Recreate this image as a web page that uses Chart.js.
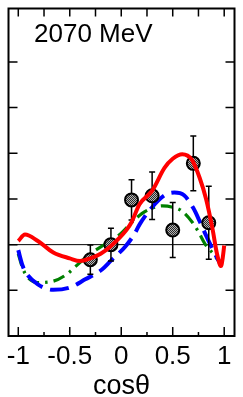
<!DOCTYPE html>
<html>
<head>
<meta charset="utf-8">
<script src="https://cdn.jsdelivr.net/npm/chart.js@4.4.0/dist/chart.umd.min.js"></script>
<style>
  html, body { margin: 0; padding: 0; background: #fff; }
</style>
</head>
<body>
<canvas id="chart" width="243" height="397"></canvas>
<script>
// panel label and axis ticks
const energyLabel = '2070 MeV';
const xTicks = [-1, -0.5, 0, 0.5, 1];
const xMinorTicks = [-0.75, -0.25, 0.25, 0.75];
const yTicks = [-1, 0, 1, 2, 3, 4];

// measured points
const dataCos = [-0.3, -0.1, 0.1, 0.3, 0.5, 0.7, 0.85];
const dataVal = [-0.33, 0.0, 0.98, 1.07, 0.32, 1.78, 0.48];
const dataErr = [0.32, 0.36, 0.44, 0.52, 0.6, 0.6, 0.8];

// model curves
const redCos = [-1.0, -0.935, -0.81, -0.66, -0.5, -0.4, -0.3, -0.2, -0.1, 0.05, 0.1, 0.176, 0.3, 0.42, 0.5, 0.593, 0.685, 0.762, 0.824, 0.886, 0.93, 0.969, 0.985, 1.0];
const redVal = [0.08, 0.22, 0.08, -0.17, -0.3, -0.36, -0.3, -0.2, -0.03, 0.32, 0.49, 0.88, 1.18, 1.68, 1.88, 1.98, 1.86, 1.46, 1.0, 0.35, -0.2, -0.47, -0.3, -0.02];

const blueCos = [-1.0, -0.96, -0.93, -0.81, -0.66, -0.5, -0.35, -0.19, -0.1, 0.04, 0.13, 0.18, 0.3, 0.42, 0.515, 0.61, 0.7, 0.76, 0.82, 0.89, 0.95, 0.97];
const blueVal = [-0.12, -0.45, -0.6, -0.87, -0.99, -0.94, -0.76, -0.55, -0.35, -0.04, 0.24, 0.45, 0.82, 1.08, 1.14, 1.08, 0.8, 0.52, 0.22, -0.11, -0.37, -0.45];

const greenCos = [-1.0, -0.96, -0.92, -0.81, -0.66, -0.53, -0.44, -0.3, -0.15, 0.0, 0.1, 0.2, 0.3, 0.4, 0.5, 0.58, 0.69, 0.75, 0.81, 0.9, 0.96];
const greenVal = [-0.2, -0.5, -0.68, -0.83, -0.8, -0.65, -0.47, -0.2, 0.02, 0.25, 0.48, 0.68, 0.8, 0.85, 0.82, 0.75, 0.49, 0.28, 0.03, -0.22, -0.4];

const FONT = "'Liberation Sans', Arial, Helvetica, sans-serif";

function pairs(xs, ys) {
  return xs.map((x, i) => ({ x: x, y: ys[i] }));
}

function hatchPattern() {
  const c = document.createElement('canvas');
  c.width = 2; c.height = 2;
  const g = c.getContext('2d');
  g.fillStyle = '#b4b4b4';
  g.fillRect(0, 0, 2, 2);
  g.fillStyle = '#2a2a2a';
  g.fillRect(0, 0, 1, 1);
  g.fillRect(1, 1, 1, 1);
  return g.createPattern(c, 'repeat');
}

// zero line, error bars, frame with inward ticks, panel label
const framePlugin = {
  id: 'frame',
  beforeDatasetsDraw(chart) {
    const { ctx, chartArea: a, scales: { y } } = chart;
    const y0 = y.getPixelForValue(0);
    ctx.save();
    ctx.strokeStyle = '#000';
    ctx.lineWidth = 1;
    ctx.beginPath();
    ctx.moveTo(a.left, y0);
    ctx.lineTo(a.right, y0);
    ctx.stroke();
    ctx.restore();
  },
  beforeDatasetDraw(chart, args) {
    if (args.index !== 1) return;
    const { ctx, scales: { x, y } } = chart;
    ctx.save();
    ctx.strokeStyle = '#000';
    ctx.lineWidth = 1.5;
    dataCos.forEach((c, i) => {
      const px = x.getPixelForValue(c);
      const top = y.getPixelForValue(dataVal[i] + dataErr[i]);
      const bot = y.getPixelForValue(dataVal[i] - dataErr[i]);
      ctx.beginPath();
      ctx.moveTo(px, top); ctx.lineTo(px, bot);
      ctx.moveTo(px - 3, top); ctx.lineTo(px + 3, top);
      ctx.moveTo(px - 3, bot); ctx.lineTo(px + 3, bot);
      ctx.stroke();
    });
    ctx.restore();
  },
  afterDatasetsDraw(chart) {
    const { ctx, chartArea: a, scales: { x, y } } = chart;
    ctx.save();
    ctx.strokeStyle = '#000';
    ctx.lineWidth = 1.5;
    ctx.beginPath();
    xTicks.forEach(v => {
      const px = x.getPixelForValue(v);
      ctx.moveTo(px, a.bottom); ctx.lineTo(px, a.bottom - 9);
      ctx.moveTo(px, a.top); ctx.lineTo(px, a.top + 8);
    });
    xMinorTicks.forEach(v => {
      const px = x.getPixelForValue(v);
      ctx.moveTo(px, a.bottom); ctx.lineTo(px, a.bottom - 4);
      ctx.moveTo(px, a.top); ctx.lineTo(px, a.top + 8);
    });
    yTicks.forEach(v => {
      const py = y.getPixelForValue(v);
      ctx.moveTo(a.left, py); ctx.lineTo(a.left + 9, py);
      ctx.moveTo(a.right, py); ctx.lineTo(a.right - 9, py);
    });
    ctx.stroke();
    ctx.lineWidth = 2;
    ctx.strokeRect(a.left, a.top, a.right - a.left, a.bottom - a.top);
    ctx.fillStyle = '#000';
    ctx.font = '26px ' + FONT;
    ctx.textBaseline = 'alphabetic';
    ctx.fillText(energyLabel, 34, 42);
    ctx.restore();
  }
};

new Chart(document.getElementById('chart'), {
  type: 'scatter',
  data: {
    datasets: [
      {
        data: pairs(redCos, redVal),
        showLine: true,
        borderColor: '#ff0000',
        borderWidth: 4,
        pointRadius: 0,
        cubicInterpolationMode: 'monotone',
        order: 0
      },
      {
        data: pairs(dataCos, dataVal),
        pointRadius: 6.5,
        pointBorderWidth: 2,
        pointBorderColor: '#000',
        pointBackgroundColor: hatchPattern(),
        order: 1
      },
      {
        data: pairs(blueCos, blueVal),
        showLine: true,
        borderColor: '#0000ff',
        borderWidth: 4,
        borderDash: [19, 8],
        pointRadius: 0,
        cubicInterpolationMode: 'monotone',
        order: 2
      },
      {
        data: pairs(greenCos, greenVal),
        showLine: true,
        borderColor: '#008000',
        borderWidth: 3.2,
        borderDash: [12, 6, 2.5, 6],
        pointRadius: 0,
        cubicInterpolationMode: 'monotone',
        order: 3
      }
    ]
  },
  options: {
    responsive: false,
    animation: false,
    layout: { padding: { left: 3, right: 3, top: 2.5, bottom: 0 } },
    plugins: { legend: { display: false }, tooltip: { enabled: false } },
    scales: {
      x: {
        type: 'linear',
        min: -1.095,
        max: 1.1,
        afterBuildTicks: s => { s.ticks = xTicks.map(v => ({ value: v })); },
        afterFit: s => { s.height = 61; },
        grid: { display: false, drawTicks: false },
        border: { display: false },
        ticks: {
          autoSkip: false,
          maxRotation: 0,
          padding: 5.5,
          color: '#000',
          font: { family: FONT, size: 26 },
          callback: v => String(v)
        },
        title: {
          display: true,
          text: 'cosθ',
          color: '#000',
          font: { family: FONT, size: 27, lineHeight: 0.75 },
          padding: { top: 6, bottom: 0 }
        }
      },
      y: {
        type: 'linear',
        min: -2,
        max: 5.17,
        display: false
      }
    }
  },
  plugins: [framePlugin]
});
</script>
</body>
</html>
